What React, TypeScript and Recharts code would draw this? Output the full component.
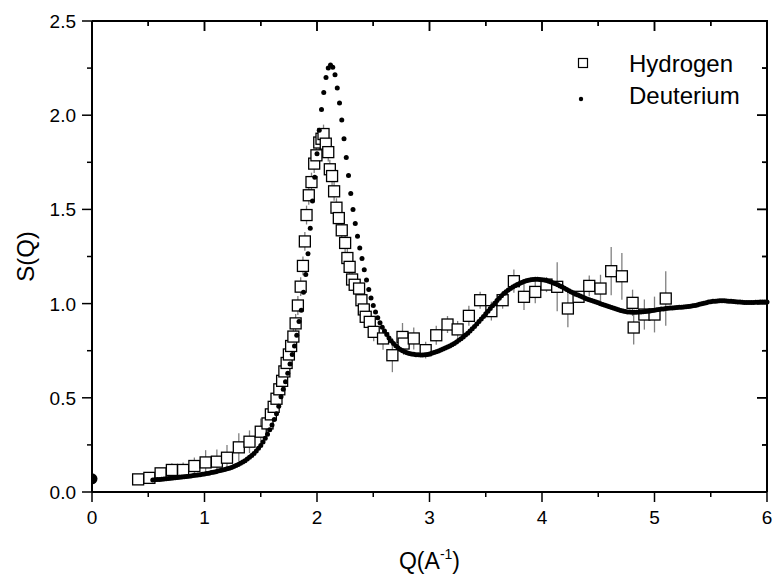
import React from 'react';
import { ScatterChart, Scatter, XAxis, YAxis, ErrorBar } from 'recharts';

const FONT = '"Liberation Sans", Arial, Helvetica, sans-serif';

const CHART_W = 776;
const CHART_H = 575;
const MARGIN = { top: 21, right: 9, bottom: 0, left: 0 };
const PLOT_TOP = MARGIN.top;
const PLOT_RIGHT = CHART_W - MARGIN.right;

const seriesNames = ['Hydrogen', 'Deuterium'];
const xTitleMain = 'Q(A';
const xTitleSup = '-1';
const xTitleEnd = ')';
const yTitle = 'S(Q)';

const xTicks = [0, 0.5, 1, 1.5, 2, 2.5, 3, 3.5, 4, 4.5, 5, 5.5, 6];
const yTicks = [0, 0.25, 0.5, 0.75, 1, 1.25, 1.5, 1.75, 2, 2.25, 2.5];
const xMajorLabels = ['0', '1', '2', '3', '4', '5', '6'];
const yMajorLabels = ['0.0', '0.5', '1.0', '1.5', '2.0', '2.5'];
const xMax = 6;
const yMax = 2.5;

const hydrogenQ = [
  0.41, 0.51, 0.61, 0.71, 0.81, 0.91, 1.01, 1.11, 1.2, 1.305,
  1.4, 1.5, 1.56, 1.59, 1.615, 1.64, 1.665, 1.69, 1.71, 1.73,
  1.75, 1.77, 1.79, 1.81, 1.83, 1.855, 1.875, 1.892, 1.907, 1.927,
  1.951, 1.975, 1.995, 2.02, 2.04, 2.058, 2.078, 2.1, 2.114, 2.134,
  2.152, 2.173, 2.194, 2.22, 2.25, 2.27, 2.29, 2.312, 2.335, 2.374,
  2.395, 2.416, 2.433, 2.469, 2.504, 2.587, 2.67, 2.76, 2.77, 2.86,
  2.966, 3.06, 3.16, 3.25, 3.35, 3.45, 3.55, 3.65, 3.75, 3.84,
  3.94, 4.04, 4.135, 4.23, 4.325, 4.42, 4.52, 4.615, 4.71, 4.805,
  4.815, 4.91, 5.0, 5.1,
];
const hydrogenS = [
  0.067, 0.075, 0.099, 0.117, 0.117, 0.138, 0.157, 0.161, 0.182, 0.237,
  0.267, 0.32, 0.364, 0.412, 0.452, 0.495, 0.545, 0.59, 0.64, 0.685,
  0.73, 0.775, 0.825, 0.895, 0.99, 1.09, 1.2, 1.33, 1.47, 1.575,
  1.645, 1.743, 1.787, 1.855, 1.875, 1.9, 1.849, 1.804, 1.713, 1.677,
  1.596, 1.509, 1.454, 1.389, 1.322, 1.242, 1.195, 1.128, 1.1, 1.08,
  1.018, 0.969, 0.93, 0.903, 0.85, 0.815, 0.726, 0.823, 0.788, 0.815,
  0.753, 0.832, 0.889, 0.863, 0.935, 1.018, 0.96, 1.018, 1.119, 1.036,
  1.062, 1.101, 1.089, 0.974, 1.036, 1.094, 1.08, 1.172, 1.145, 1.004,
  0.873, 0.942, 0.942, 1.027,
];
const hydrogenErr = [
  0.02, 0.02, 0.025, 0.035, 0.04, 0.045, 0.065, 0.065, 0.067, 0.075,
  0.06, 0.07, 0.05, 0.05, 0.05, 0.05, 0.05, 0.05, 0.05, 0.05,
  0.05, 0.05, 0.05, 0.05, 0.05, 0.05, 0.05, 0.05, 0.05, 0.05,
  0.05, 0.05, 0.05, 0.05, 0.05, 0.05, 0.05, 0.05, 0.05, 0.05,
  0.05, 0.05, 0.05, 0.05, 0.05, 0.05, 0.05, 0.05, 0.05, 0.05,
  0.05, 0.05, 0.05, 0.05, 0.05, 0.06, 0.09, 0.074, 0.06, 0.058,
  0.045, 0.05, 0.045, 0.045, 0.053, 0.045, 0.05, 0.045, 0.062, 0.07,
  0.06, 0.04, 0.13, 0.1, 0.03, 0.055, 0.073, 0.128, 0.124, 0.07,
  0.09, 0.08, 0.095, 0.145,
];

const deuteriumQ = [
  0.54, 0.56, 0.58, 0.6, 0.62, 0.64, 0.66, 0.68, 0.7, 0.72,
  0.74, 0.76, 0.78, 0.8, 0.82, 0.84, 0.86, 0.88, 0.9, 0.92,
  0.94, 0.96, 0.98, 1.0, 1.02, 1.04, 1.06, 1.08, 1.1, 1.12,
  1.14, 1.16, 1.18, 1.2, 1.22, 1.24, 1.26, 1.28, 1.3, 1.32,
  1.34, 1.36, 1.38, 1.4, 1.42, 1.44, 1.46, 1.48, 1.5, 1.52,
  1.54, 1.56, 1.58, 1.6, 1.62, 1.64, 1.66, 1.68, 1.7, 1.72,
  1.74, 1.76, 1.78, 1.8, 1.82, 1.84, 1.86, 1.88, 1.9, 1.92,
  1.94, 1.96, 1.98, 2.0, 2.02, 2.04, 2.06, 2.08, 2.1, 2.12,
  2.14, 2.16, 2.18, 2.2, 2.22, 2.24, 2.26, 2.28, 2.3, 2.32,
  2.34, 2.36, 2.38, 2.4, 2.42, 2.44, 2.46, 2.48, 2.5, 2.52,
  2.54, 2.56, 2.58, 2.6, 2.62, 2.64, 2.66, 2.68, 2.7, 2.72,
  2.74, 2.76, 2.78, 2.8, 2.82, 2.84, 2.86, 2.88, 2.9, 2.92,
  2.94, 2.96, 2.98, 3.0, 3.02, 3.04, 3.06, 3.08, 3.1, 3.12,
  3.14, 3.16, 3.18, 3.2, 3.22, 3.24, 3.26, 3.28, 3.3, 3.32,
  3.34, 3.36, 3.38, 3.4, 3.42, 3.44, 3.46, 3.48, 3.5, 3.52,
  3.54, 3.56, 3.58, 3.6, 3.62, 3.64, 3.66, 3.68, 3.7, 3.72,
  3.74, 3.76, 3.78, 3.8, 3.82, 3.84, 3.86, 3.88, 3.9, 3.92,
  3.94, 3.96, 3.98, 4.0, 4.02, 4.04, 4.06, 4.08, 4.1, 4.12,
  4.14, 4.16, 4.18, 4.2, 4.22, 4.24, 4.26, 4.28, 4.3, 4.32,
  4.34, 4.36, 4.38, 4.4, 4.42, 4.44, 4.46, 4.48, 4.5, 4.52,
  4.54, 4.56, 4.58, 4.6, 4.62, 4.64, 4.66, 4.68, 4.7, 4.72,
  4.74, 4.76, 4.78, 4.8, 4.82, 4.84, 4.86, 4.88, 4.9, 4.92,
  4.94, 4.96, 4.98, 5.0, 5.02, 5.04, 5.06, 5.08, 5.1, 5.12,
  5.14, 5.16, 5.18, 5.2, 5.22, 5.24, 5.26, 5.28, 5.3, 5.32,
  5.34, 5.36, 5.38, 5.4, 5.42, 5.44, 5.46, 5.48, 5.5, 5.52,
  5.54, 5.56, 5.58, 5.6, 5.62, 5.64, 5.66, 5.68, 5.7, 5.72,
  5.74, 5.76, 5.78, 5.8, 5.82, 5.84, 5.86, 5.88, 5.9, 5.92,
  5.94, 5.96, 5.98, 6.0,
];
const deuteriumS = [
  0.064, 0.065, 0.066, 0.067, 0.068, 0.069, 0.07, 0.071, 0.073, 0.074,
  0.075, 0.077, 0.078, 0.079, 0.081, 0.082, 0.084, 0.085, 0.087, 0.089,
  0.09, 0.092, 0.094, 0.096, 0.098, 0.1, 0.103, 0.105, 0.108, 0.111,
  0.114, 0.117, 0.12, 0.123, 0.126, 0.13, 0.135, 0.14, 0.146, 0.152,
  0.159, 0.166, 0.175, 0.184, 0.194, 0.205, 0.218, 0.232, 0.247, 0.265,
  0.285, 0.306, 0.33, 0.356, 0.385, 0.415, 0.455, 0.505, 0.545, 0.585,
  0.63, 0.68, 0.73, 0.775, 0.832, 0.905, 0.965, 1.06, 1.155, 1.265,
  1.4, 1.545, 1.67, 1.795, 1.92, 2.03, 2.12, 2.2, 2.25, 2.266,
  2.255, 2.215, 2.145, 2.065, 1.975, 1.875, 1.775, 1.68, 1.585, 1.5,
  1.425, 1.358, 1.295, 1.24, 1.18, 1.125, 1.075, 1.03, 0.99, 0.955,
  0.925, 0.898, 0.875, 0.855, 0.836, 0.818, 0.802, 0.788, 0.776, 0.766,
  0.757, 0.75, 0.744, 0.739, 0.735, 0.733, 0.731, 0.729, 0.728, 0.727,
  0.727, 0.728, 0.73, 0.733, 0.736, 0.74, 0.744, 0.749, 0.754, 0.759,
  0.764, 0.769, 0.775, 0.781, 0.788, 0.796, 0.805, 0.814, 0.823, 0.833,
  0.843, 0.854, 0.866, 0.879, 0.892, 0.905, 0.918, 0.932, 0.946, 0.96,
  0.974, 0.988, 1.002, 1.016, 1.029, 1.042, 1.053, 1.063, 1.072, 1.08,
  1.088, 1.095, 1.101, 1.107, 1.112, 1.117, 1.121, 1.124, 1.127, 1.128,
  1.129, 1.129, 1.128, 1.127, 1.125, 1.122, 1.118, 1.114, 1.11, 1.105,
  1.1, 1.094, 1.088, 1.081, 1.075, 1.068, 1.062, 1.056, 1.05, 1.045,
  1.04, 1.035, 1.03, 1.025, 1.02, 1.016, 1.012, 1.008, 1.004, 0.999,
  0.995, 0.991, 0.987, 0.983, 0.979, 0.975, 0.971, 0.967, 0.964, 0.961,
  0.958, 0.956, 0.955, 0.954, 0.954, 0.954, 0.955, 0.956, 0.957, 0.958,
  0.959, 0.961, 0.963, 0.965, 0.967, 0.969, 0.971, 0.972, 0.974, 0.975,
  0.976, 0.977, 0.978, 0.979, 0.98, 0.981, 0.982, 0.983, 0.984, 0.986,
  0.988, 0.99, 0.993, 0.996, 0.999, 1.002, 1.005, 1.008, 1.01, 1.012,
  1.013, 1.014, 1.015, 1.015, 1.015, 1.014, 1.013, 1.012, 1.011, 1.01,
  1.009, 1.008, 1.007, 1.006, 1.006, 1.006, 1.006, 1.006, 1.007, 1.007,
  1.008, 1.008, 1.009, 1.009,
];

// single large point sitting on the left axis
const originQ = [0];
const originS = [0.07];

const hydrogenData = hydrogenQ.map((q, i) => ({ q, s: hydrogenS[i], err: hydrogenErr[i] }));
const deuteriumData = deuteriumQ.map((q, i) => ({ q, s: deuteriumS[i] }));
const originData = originQ.map((q, i) => ({ q, s: originS[i] }));

// frame (top + right edges) and their inward ticks, placed through the chart scales
const frameData = [
  { q: 0, s: yMax },
  { q: xMax, s: yMax },
  { q: xMax, s: 0 },
];
const topTickData = xTicks.map((t) => ({ q: t, s: yMax }));
const rightTickData = yTicks.map((t) => ({ q: xMax, s: t }));

const isInt = (v: number) => Math.abs(v - Math.round(v)) < 1e-6;

const BottomTick = (props: any) => {
  const { x, y, payload } = props;
  const v = payload.value;
  const major = isInt(v);
  const len = major ? 10 : 5;
  return (
    <g>
      <line x1={x} x2={x} y1={y} y2={y + len} stroke="#000" strokeWidth={1.5} />
      <line x1={x} x2={x} y1={PLOT_TOP} y2={PLOT_TOP + len} stroke="#000" strokeWidth={1.5} />
      {major && (
        <text x={x} y={y + 31.5} textAnchor="middle" fontSize={19} fontFamily={FONT} fill="#000">
          {xMajorLabels[Math.round(v)]}
        </text>
      )}
    </g>
  );
};

const LeftTick = (props: any) => {
  const { x, y, payload } = props;
  const v = payload.value;
  const major = isInt(v * 2);
  const len = major ? 10 : 5;
  return (
    <g>
      <line x1={x} x2={x - len} y1={y} y2={y} stroke="#000" strokeWidth={1.5} />
      <line x1={PLOT_RIGHT} x2={PLOT_RIGHT - len} y1={y} y2={y} stroke="#000" strokeWidth={1.5} />
      {major && (
        <text x={x - 16} y={y + 7} textAnchor="end" fontSize={19} fontFamily={FONT} fill="#000">
          {yMajorLabels[Math.round(v * 2)]}
        </text>
      )}
    </g>
  );
};

const XTitle = (props: any) => {
  const vb = props.viewBox || { x: 92, y: 492, width: 675, height: 83 };
  const cx = vb.x + vb.width / 2;
  const by = vb.y + 77;
  return (
    <text x={cx} y={by} textAnchor="middle" fontSize={23} fontFamily={FONT} fill="#000">
      {xTitleMain}
      <tspan fontSize={14} dy={-10}>{xTitleSup}</tspan>
      <tspan fontSize={23} dy={10}>{xTitleEnd}</tspan>
    </text>
  );
};

const YTitle = (props: any) => {
  const vb = props.viewBox || { x: 0, y: 21, width: 92, height: 471 };
  const cx = 25;
  const cy = vb.y + vb.height / 2;
  return (
    <text
      x={cx}
      y={cy}
      dy="0.36em"
      transform={`rotate(-90 ${cx} ${cy})`}
      textAnchor="middle"
      fontSize={24}
      fontFamily={FONT}
      fill="#000"
    >
      {yTitle}
    </text>
  );
};

const squareShape = (p: any) => (
  <rect x={p.cx - 5.5} y={p.cy - 5.5} width={11} height={11} fill="#fff" stroke="#000" strokeWidth={1.3} />
);
const dotShape = (p: any) => <circle cx={p.cx} cy={p.cy} r={2.5} fill="#000" />;
// the reference shows only the half of this point that lies inside the frame
const halfDotShape = (p: any) => (
  <path d={`M${p.cx},${p.cy - 5.5} A5.5,5.5 0 0 1 ${p.cx},${p.cy + 5.5} Z`} fill="#000" />
);
const emptyShape = () => <g />;
const pointQ = (p: any) => (p.payload && typeof p.payload.q === 'number' ? p.payload.q : 0);
const pointS = (p: any) => (p.payload && typeof p.payload.s === 'number' ? p.payload.s : 0);
const topTickShape = (p: any) => {
  const len = isInt(pointQ(p)) ? 10 : 5;
  return <line x1={p.cx} x2={p.cx} y1={p.cy} y2={p.cy + len} stroke="#000" strokeWidth={1.5} />;
};
const rightTickShape = (p: any) => {
  const len = isInt(pointS(p) * 2) ? 10 : 5;
  return <line x1={p.cx} x2={p.cx - len} y1={p.cy} y2={p.cy} stroke="#000" strokeWidth={1.5} />;
};

const LegendBox = () => (
  <div style={{ position: 'absolute', left: 570, top: 40, width: 200, height: 76 }}>
    <svg width={200} height={76} style={{ display: 'block' }}>
      <rect x={8.5} y={18.5} width={9} height={9} fill="#fff" stroke="#000" strokeWidth={1.2} />
      <text x={59} y={31.5} fontSize={24} fontFamily={FONT} fill="#000">
        {seriesNames[0]}
      </text>
      <circle cx={11} cy={59} r={2.2} fill="#000" />
      <text x={59} y={63.5} fontSize={24} fontFamily={FONT} fill="#000">
        {seriesNames[1]}
      </text>
    </svg>
  </div>
);

export default function App() {
  return (
    <div style={{ position: 'absolute', left: 0, top: 0, width: CHART_W, height: CHART_H, background: '#fff' }}>
      <ScatterChart width={CHART_W} height={CHART_H} margin={MARGIN}>
        <XAxis
          xAxisId="x"
          type="number"
          dataKey="q"
          domain={[0, xMax]}
          ticks={xTicks}
          interval={0}
          height={83}
          tickSize={0}
          tickMargin={0}
          tickLine={false}
          axisLine={{ stroke: '#000', strokeWidth: 2 }}
          tick={BottomTick}
          label={{ content: XTitle }}
        />
        <YAxis
          yAxisId="y"
          type="number"
          dataKey="s"
          domain={[0, yMax]}
          ticks={yTicks}
          interval={0}
          width={92}
          tickSize={0}
          tickMargin={0}
          tickLine={false}
          axisLine={{ stroke: '#000', strokeWidth: 2 }}
          tick={LeftTick}
          label={{ content: YTitle }}
        />
        <Scatter
          name={seriesNames[0]}
          xAxisId="x"
          yAxisId="y"
          data={hydrogenData}
          shape={squareShape}
          isAnimationActive={false}
        >
          <ErrorBar dataKey="err" direction="y" width={0} stroke="#808080" strokeWidth={1.3} />
        </Scatter>
        <Scatter
          name={seriesNames[1]}
          xAxisId="x"
          yAxisId="y"
          data={deuteriumData}
          shape={dotShape}
          isAnimationActive={false}
        />
        <Scatter
          name="origin"
          xAxisId="x"
          yAxisId="y"
          data={originData}
          shape={halfDotShape}
          isAnimationActive={false}
          legendType="none"
        />
        <Scatter
          name="frame"
          xAxisId="x"
          yAxisId="y"
          data={frameData}
          line={{ stroke: '#000', strokeWidth: 2 }}
          shape={emptyShape}
          isAnimationActive={false}
          legendType="none"
        />
        <Scatter
          name="topTicks"
          xAxisId="x"
          yAxisId="y"
          data={topTickData}
          shape={topTickShape}
          isAnimationActive={false}
          legendType="none"
        />
        <Scatter
          name="rightTicks"
          xAxisId="x"
          yAxisId="y"
          data={rightTickData}
          shape={rightTickShape}
          isAnimationActive={false}
          legendType="none"
        />
      </ScatterChart>
      <LegendBox />
    </div>
  );
}
